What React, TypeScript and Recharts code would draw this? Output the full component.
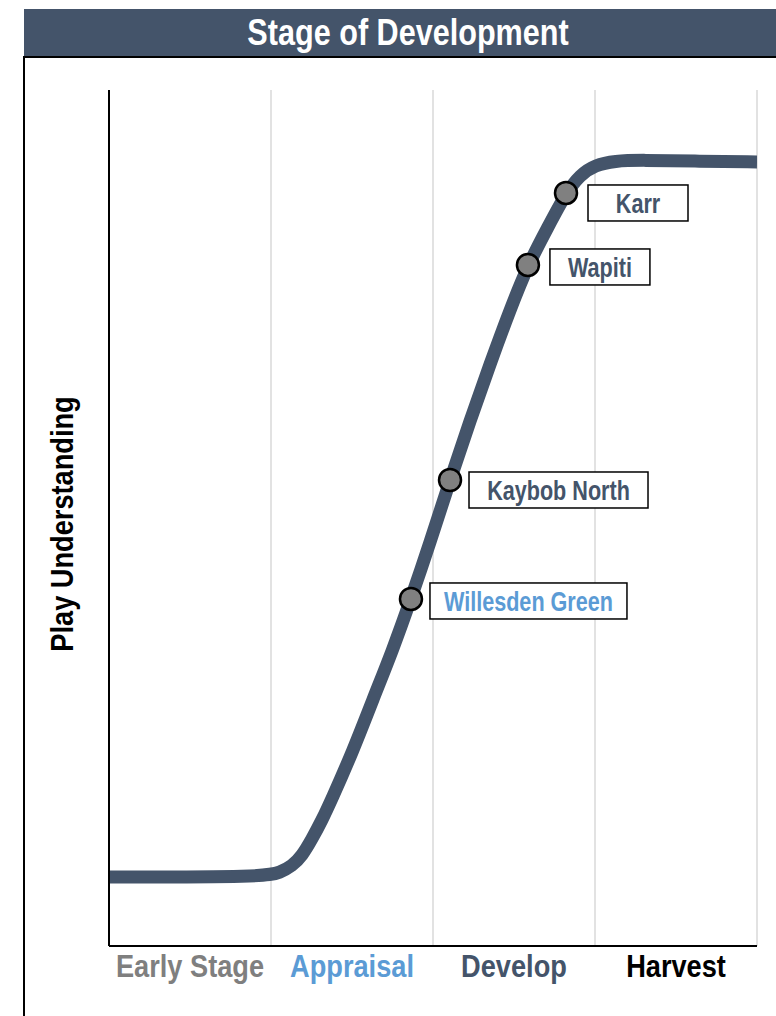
import React from "react";
import { ComposedChart, Line, Scatter, XAxis, YAxis, ReferenceLine, Label } from "recharts";

// S-curve: x in stage units (0-4), y = play understanding (0-100)
const curveX = [0, 0.963, 1.056, 1.13, 1.191, 1.253, 1.315, 1.37, 1.506, 1.63, 1.747, 1.864, 1.981, 2.105, 2.228, 2.352, 2.475, 2.586, 2.71, 2.821, 2.907, 3.0, 3.123, 3.278, 3.648, 4.0];
const curveY = [8.06, 8.06, 8.59, 9.35, 10.51, 12.5, 14.72, 16.94, 22.78, 28.86, 34.35, 40.54, 47.08, 54.44, 61.33, 67.99, 74.3, 79.56, 84.0, 87.97, 90.07, 91.24, 91.71, 91.82, 91.68, 91.6];

const sites = ["Karr", "Wapiti", "Kaybob North", "Willesden Green"];
const siteX = [2.821, 2.586, 2.105, 1.864];
const siteY = [87.97, 79.56, 54.44, 40.54];

const stages = ["Early Stage", "Appraisal", "Develop", "Harvest"];
const stageCenters = [0.5, 1.5, 2.5, 3.5];
const stageBounds = [1, 2, 3, 4];

const SLATE = "#44546A";
const BLUE = "#5B9BD5";
const stageColors = ["#7F7F7F", BLUE, SLATE, "#000000"];
const siteColors = [SLATE, SLATE, SLATE, BLUE];
const siteBoxWidths = [100, 100, 179, 197];
const siteBoxDy = [-8, -16, -8, -16];
const siteBoxDx = [22, 22, 19, 19];

const FONT = "'Liberation Sans', Arial, sans-serif";
const NARROW = 0.85;

const curveData = curveX.map((x, i) => ({ x, y: curveY[i] }));
const siteData = sites.map((name, i) => ({ name, x: siteX[i], y: siteY[i], idx: i }));

const StageTick = (props: any) => {
  const { x, y, payload } = props;
  const i = stageCenters.indexOf(payload.value);
  return (
    <text transform={`translate(${x}, ${y + 31}) scale(${NARROW}, 1)`} x={0} y={0} textAnchor="middle" fontFamily={FONT} fontWeight="bold" fontSize={32} fill={stageColors[i]}>
      {stages[i]}
    </text>
  );
};

const SiteShape = (props: any) => {
  const { cx, cy, payload } = props;
  const i = payload.idx;
  const w = siteBoxWidths[i];
  const bx = cx + siteBoxDx[i];
  const by = cy + siteBoxDy[i];
  const h = 36;
  return (
    <g>
      <circle cx={cx} cy={cy} r={11} fill="#808080" stroke="#000" strokeWidth={2.5} />
      <rect x={bx} y={by} width={w} height={h} fill="#fff" stroke="#000" strokeWidth={1.5} />
      <text transform={`translate(${bx + w / 2}, ${by + h / 2 + 10}) scale(0.8, 1)`} x={0} y={0} textAnchor="middle" fontFamily={FONT} fontWeight="bold" fontSize={27} fill={siteColors[i]}>
        {payload.name}
      </text>
    </g>
  );
};

const YLabel = () => {
  const bx = 73;
  const cy = 524;
  return (
    <text transform={`translate(${bx}, ${cy}) rotate(-90) scale(${NARROW}, 1)`} x={0} y={0} textAnchor="middle" fontFamily={FONT} fontWeight="bold" fontSize={32} fill="#000">
      Play Understanding
    </text>
  );
};

export default function App() {
  return (
    <div style={{ position: "absolute", left: 0, top: 0, width: 776, height: 1016, overflow: "hidden", background: "#fff" }}>
      <div style={{ position: "absolute", left: 24, top: 9, width: 800, height: 48, background: SLATE }} />
      <div style={{ position: "absolute", left: 24, top: 9, width: 768, height: 48, display: "flex", alignItems: "center", justifyContent: "center", color: "#fff", fontFamily: FONT, fontWeight: "bold", fontSize: 36, lineHeight: "48px" }}>
        <span style={{ display: "inline-block", transform: `scaleX(${NARROW})`, whiteSpace: "nowrap" }}>Stage of Development</span>
      </div>
      <div style={{ position: "absolute", left: 23, top: 56, width: 900, height: 1000, border: "2px solid #000", boxSizing: "border-box" }} />
      <div style={{ position: "absolute", left: 0, top: 0 }}>
        <ComposedChart width={776} height={1016} margin={{ top: 90, right: 19, bottom: 20, left: 24 }}>
          <XAxis type="number" dataKey="x" domain={[0, 4]} ticks={stageCenters} tick={<StageTick />} tickLine={false} tickSize={0} tickMargin={0} height={50} axisLine={{ stroke: "#000", strokeWidth: 2 }} allowDataOverflow />
          <YAxis type="number" dataKey="y" domain={[0, 100]} tick={false} tickLine={false} width={85} axisLine={{ stroke: "#000", strokeWidth: 2 }}>
            <Label content={<YLabel />} />
          </YAxis>
          {stageBounds.map((b) => (
            <ReferenceLine key={b} x={b} stroke="#D9D9D9" strokeWidth={1.5} />
          ))}
          <Line data={curveData} dataKey="y" type="basis" stroke={SLATE} strokeWidth={13} dot={false} activeDot={false} isAnimationActive={false} strokeLinecap="butt" strokeLinejoin="round" />
          <Scatter data={siteData} dataKey="y" shape={<SiteShape />} isAnimationActive={false} />
        </ComposedChart>
      </div>
    </div>
  );
}
